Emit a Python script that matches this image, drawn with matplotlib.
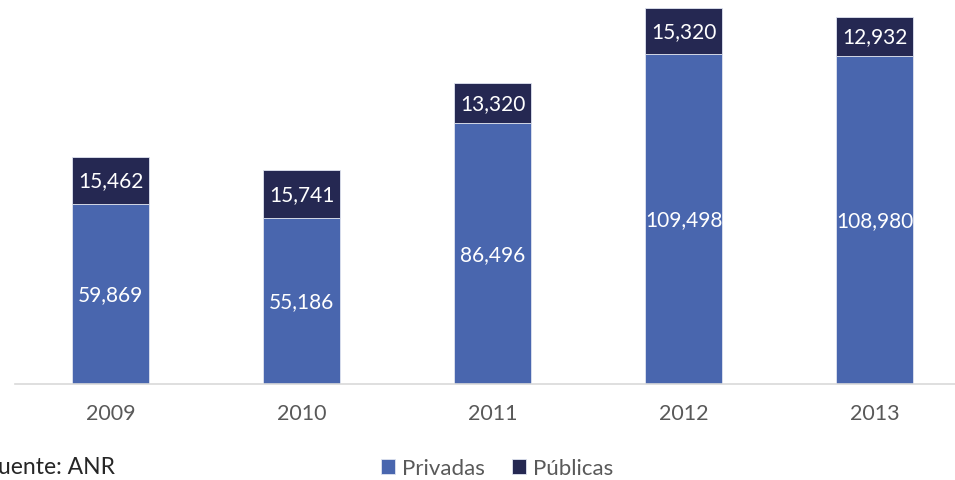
import matplotlib.pyplot as plt

anios = ['2009', '2010', '2011', '2012', '2013']
privadas = [59869, 55186, 86496, 109498, 108980]
publicas = [15462, 15741, 13320, 15320, 12932]

color_priv = '#4966ae'
color_pub = '#252852'
gris = '#595959'

plt.rcParams['font.family'] = ['Lato', 'DejaVu Sans']

fig = plt.figure(figsize=(9.55, 4.81), dpi=100)
ax = fig.add_axes([15 / 955, 96 / 481, 955 / 955, 376.5 / 481])

x = range(len(anios))
b1 = ax.bar(x, privadas, width=0.4, color=color_priv, edgecolor='#dfe4f0', linewidth=0.6)
b2 = ax.bar(x, publicas, width=0.4, bottom=privadas, color=color_pub, edgecolor='#dfe4f0', linewidth=0.6)

ax.bar_label(b1, labels=[f'{v:,}' for v in privadas], label_type='center', color='white', fontsize=15)
ax.bar_label(b2, labels=[f'{v:,}' for v in publicas], label_type='center', color='white', fontsize=15)

ax.set_xlim(-0.5, 4.5)
ax.set_ylim(0, 125000)
ax.set_xticks(list(x))
ax.set_xticklabels(anios, fontsize=15.5, color=gris)
ax.tick_params(axis='x', length=0, pad=14)
ax.set_yticks([])
for lado in ['top', 'right', 'left']:
    ax.spines[lado].set_visible(False)
ax.spines['bottom'].set_color('#d9d9d9')
ax.spines['bottom'].set_linewidth(1.2)

# la fuente queda recortada por el borde izquierdo
fig.text(-15 / 955, 1 - 468 / 481, 'Fuente: ANR', fontsize=16.5, color='#262626', va='center')

leg = fig.legend([b1, b2], ['Privadas', 'Públicas'], loc='center', bbox_to_anchor=(497 / 955, 1 - 469 / 481),
                 ncol=2, frameon=False, fontsize=16, handlelength=0.65, handleheight=0.65,
                 handletextpad=0.3, columnspacing=1.2)
for t in leg.get_texts():
    t.set_color(gris)

fig.savefig('out.png', dpi=100)
